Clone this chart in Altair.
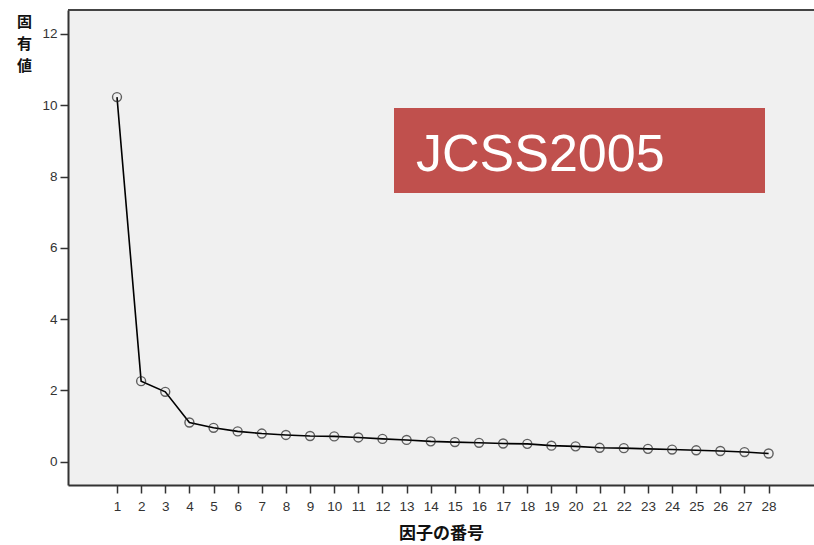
import altair as alt
import pandas as pd

factor_no = list(range(1, 29))
eigenvalues = [10.23, 2.26, 1.96, 1.10, 0.95, 0.85, 0.79, 0.75, 0.72, 0.71,
               0.68, 0.64, 0.61, 0.57, 0.55, 0.53, 0.51, 0.50, 0.45, 0.43,
               0.39, 0.38, 0.36, 0.34, 0.32, 0.30, 0.27, 0.23]
x_ticks = list(range(1, 29))
y_ticks = [0, 2, 4, 6, 8, 10, 12]
label_text = ["JCSS2005"]

df = pd.DataFrame({"factor": factor_no, "eigen": eigenvalues})

W, H = 746, 475

xs = alt.Scale(domain=[-1.03, 29.88], nice=False, zero=False)
ys = alt.Scale(domain=[-0.654, 12.673], nice=False, zero=False)

x_enc = alt.X("factor:Q", scale=xs, axis=alt.Axis(
    values=x_ticks, tickCount=28, title="因子の番号", grid=False, tickSize=8, tickWidth=1.5,
    tickColor="#333333", domainColor="#333333", domainWidth=2,
    labelFont="Liberation Sans", labelFontSize=13.5, labelColor="#333333",
    labelPadding=6, labelFlush=False, labelOverlap=False, labelBound=False,
    titleFont="Noto Sans CJK JP", titleFontSize=17, titleFontWeight="bold",
    titleColor="#111111", titleX=373, titleY=40, titleBaseline="top"))
y_enc = alt.Y("eigen:Q", scale=ys, axis=alt.Axis(
    values=y_ticks, title=["固", "有", "値"], grid=False, tickSize=8, tickWidth=1.5,
    tickColor="#333333", domainColor="#333333", domainWidth=2,
    labelFont="Liberation Sans", labelFontSize=13.5, labelColor="#333333",
    labelPadding=3, labelFlush=False, labelOverlap=False,
    titleFont="Noto Sans CJK JP", titleFontSize=15, titleFontWeight="bold",
    titleColor="#111111", titleAngle=0, titleAlign="center", titleBaseline="top",
    titleX=-44, titleY=4, titleLineHeight=22))

base = alt.Chart(df).encode(x=x_enc, y=y_enc)
line = base.mark_line(color="black", strokeWidth=1.6)
pts = base.mark_point(shape="circle", filled=False, color="#222222",
                      size=80, strokeWidth=1.4)

top_border = alt.Chart(df.head(1)).mark_rule(color="#444444", strokeWidth=2).encode(
    x=alt.value(0), x2=alt.value(W), y=alt.value(0))

box = alt.Chart(df.head(1)).mark_rect(color="#C0504D").encode(
    x=alt.value(326), x2=alt.value(697), y=alt.value(98), y2=alt.value(183))
txt = alt.Chart(pd.DataFrame({"t": label_text})).mark_text(
    color="white", font="Liberation Sans", fontSize=52, align="left", baseline="alphabetic"
).encode(x=alt.value(348), y=alt.value(161), text="t:N")

chart = alt.layer(line, pts, top_border, box, txt).properties(
    width=W, height=H,
    autosize=alt.AutoSizeParams(type="none"),
    padding={"left": 68, "top": 10, "right": 0, "bottom": 60},
    background="white",
).configure_view(fill="#F0F0F0", stroke=None)

chart.save("out.html", embed_options={"renderer": "svg", "actions": False})
